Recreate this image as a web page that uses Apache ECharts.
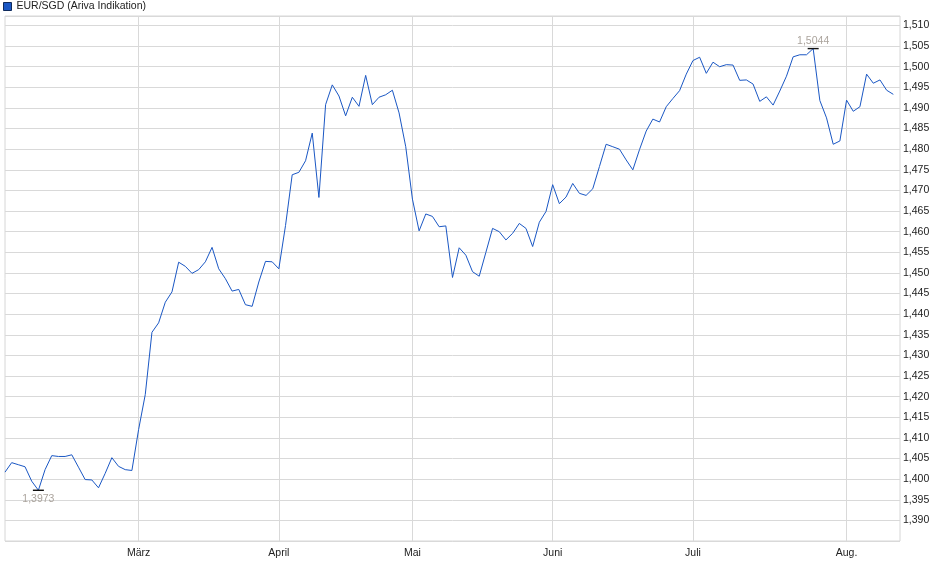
<!DOCTYPE html>
<html>
<head>
<meta charset="utf-8">
<script src="https://cdn.jsdelivr.net/npm/echarts@6/dist/echarts.min.js"></script>
<style>
  html, body { margin: 0; padding: 0; background: #fff; }
  #chart { width: 940px; height: 579px; }
</style>
</head>
<body>
<div id="chart"></div>
<script>
// ---- data ----
const seriesName = 'EUR/SGD (Ariva Indikation)';
const firstDay = '2025-02-03';
const lastDay = '2025-08-12';
const holidays = ['2025-04-18', '2025-04-21', '2025-05-01'];
const monthNames = ['Jan.', 'Feb.', 'März', 'April', 'Mai', 'Juni', 'Juli', 'Aug.', 'Sep.', 'Okt.', 'Nov.', 'Dez.'];

const febValues = [1.4017, 1.4040, 1.4035, 1.4030, 1.3995, 1.3973, 1.4023, 1.4057, 1.4055, 1.4055,
                   1.4059, 1.4029, 1.3999, 1.3998, 1.3979, 1.4014, 1.4052, 1.4031, 1.4023, 1.4021];
const marValues = [1.4120, 1.4205, 1.4356, 1.4379, 1.4429, 1.4454, 1.4526, 1.4516, 1.4499, 1.4508,
                   1.4527, 1.4562, 1.4510, 1.4486, 1.4456, 1.4460, 1.4423, 1.4419, 1.4478, 1.4528, 1.4527];
const aprValues = [1.4510, 1.4615, 1.4738, 1.4744, 1.4772, 1.4839, 1.4683, 1.4908, 1.4956, 1.4929,
                   1.4881, 1.4926, 1.4904, 1.4979, 1.4908, 1.4926, 1.4932, 1.4943, 1.4888, 1.4806];
const mayValues = [1.4679, 1.4602, 1.4643, 1.4637, 1.4612, 1.4614, 1.4489, 1.4561, 1.4543, 1.4503,
                   1.4492, 1.4550, 1.4608, 1.4600, 1.4580, 1.4596, 1.4620, 1.4608, 1.4564, 1.4623, 1.4649];
const junValues = [1.4714, 1.4668, 1.4684, 1.4717, 1.4693, 1.4688, 1.4704, 1.4758, 1.4812, 1.4806,
                   1.4800, 1.4774, 1.4750, 1.4799, 1.4844, 1.4873, 1.4866, 1.4903, 1.4923, 1.4942, 1.4982];
const julValues = [1.5015, 1.5023, 1.4984, 1.5011, 1.5000, 1.5005, 1.5004, 1.4967, 1.4968, 1.4958,
                   1.4916, 1.4927, 1.4907, 1.4941, 1.4977, 1.5024, 1.5029, 1.5029, 1.5044, 1.4918,
                   1.4876, 1.4812, 1.4820];
const augValues = [1.4919, 1.4892, 1.4903, 1.4982, 1.4960, 1.4968, 1.4943, 1.4933];

const yMin = 1.385;
const yMax = 1.5123;
const yStep = 0.005;

// ---- build categories (trading days) ----
const categories = [];
(function () {
  const d = new Date(firstDay + 'T00:00:00Z');
  const end = new Date(lastDay + 'T00:00:00Z');
  while (d <= end) {
    const iso = d.toISOString().slice(0, 10);
    const wd = d.getUTCDay();
    if (wd !== 0 && wd !== 6 && holidays.indexOf(iso) < 0) categories.push(iso);
    d.setUTCDate(d.getUTCDate() + 1);
  }
  categories.push(''); // right padding slot
})();

const values = [].concat(febValues, marValues, aprValues, mayValues, junValues, julValues, augValues);

function isMonthStart(idx) {
  const c = categories[idx], p = categories[idx - 1];
  return idx > 0 && c && p && c.slice(5, 7) !== p.slice(5, 7);
}
const fmtComma = (v, n) => v.toFixed(n).replace('.', ',');

const FONT = 'Liberation Sans, Arial, sans-serif';
const chart = echarts.init(document.getElementById('chart'), null, { renderer: 'canvas' });
chart.setOption({
  animation: false,
  backgroundColor: '#ffffff',
  textStyle: { fontFamily: FONT },
  legend: {
    left: 3, top: 1, padding: 0,
    icon: 'rect', itemWidth: 8, itemHeight: 8, itemGap: 10,
    textStyle: { fontFamily: FONT, fontSize: 10.5, color: '#222' },
    data: [{ name: seriesName, itemStyle: { color: '#1a57c4', borderColor: '#0f2a5c', borderWidth: 1 } }]
  },
  grid: {
    left: 5, right: 40, top: 16, bottom: 38,
    show: true, borderColor: '#d6d6d6', borderWidth: 1, containLabel: false
  },
  xAxis: {
    type: 'category',
    data: categories,
    boundaryGap: false,
    axisLine: { show: false },
    axisTick: { show: false },
    axisLabel: {
      interval: (idx) => isMonthStart(idx),
      formatter: (v) => v ? monthNames[parseInt(v.slice(5, 7), 10) - 1] : '',
      color: '#222', fontSize: 10.5, fontFamily: FONT, margin: 7
    },
    splitLine: {
      show: true,
      interval: (idx) => isMonthStart(idx),
      lineStyle: { color: '#d9d9d9', width: 1 }
    }
  },
  yAxis: {
    type: 'value',
    position: 'right',
    min: yMin, max: yMax, interval: yStep,
    axisLine: { show: false },
    axisTick: { show: false },
    axisLabel: {
      showMinLabel: false, showMaxLabel: false,
      formatter: (v) => (v < yMin + yStep / 2 || v > 1.5105) ? '' : fmtComma(v, 3),
      color: '#222', fontSize: 10.5, fontFamily: FONT, margin: 3
    },
    splitLine: { show: true, lineStyle: { color: '#d9d9d9', width: 1 } }
  },
  series: [{
    name: seriesName,
    type: 'line',
    data: values,
    showSymbol: false,
    symbol: 'none',
    itemStyle: { color: '#1a57c4' },
    lineStyle: { color: '#1a57c4', width: 1 },
    markPoint: {
      symbol: 'rect',
      symbolSize: [11, 1.4],
      itemStyle: { color: '#111' },
      label: {
        show: true, fontFamily: FONT, fontSize: 10.5, color: '#aba49d',
        formatter: (p) => fmtComma(p.value, 4)
      },
      data: [
        { type: 'min', label: { position: 'bottom', distance: 3 } },
        { type: 'max', label: { position: 'top', distance: 1.5 } }
      ]
    }
  }]
});
</script>
</body>
</html>
